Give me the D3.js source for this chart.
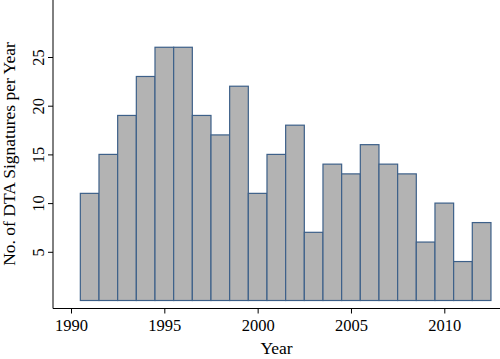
<!DOCTYPE html>
<html><head><meta charset="utf-8">
<script src="https://cdn.jsdelivr.net/npm/d3@7"></script>
<style>body{margin:0;background:#fff}svg{display:block}</style>
</head><body>
<script>
const years = [1991,1992,1993,1994,1995,1996,1997,1998,1999,2000,2001,2002,2003,2004,2005,2006,2007,2008,2009,2010,2011,2012];
const counts = [11,15,19,23,26,26,19,17,22,11,15,18,7,14,13,16,14,13,6,10,4,8];
const xTicks = [1990,1995,2000,2005,2010];
const yTicks = [5,10,15,20,25];

const W = 500, H = 359;
const svg = d3.select("body").append("svg").attr("width", W).attr("height", H);
const font = "'Liberation Serif', 'Times New Roman', serif";

const x = d3.scaleLinear().domain([1990, 2010]).range([71, 444.3]);
const y = d3.scaleLinear().domain([0, 25]).range([300.5, 57]);

// bars
svg.append("g").selectAll("rect").data(years).join("rect")
  .attr("x", (d) => x(d - 0.5))
  .attr("width", (d) => x(d + 0.5) - x(d - 0.5))
  .attr("y", (d, i) => y(counts[i]))
  .attr("height", (d, i) => y(0) - y(counts[i]))
  .attr("fill", "#b3b3b3")
  .attr("stroke", "#3d6089")
  .attr("stroke-width", 1.2);

// y axis
const yAxis = svg.append("g").attr("transform", "translate(53,0)")
  .call(d3.axisLeft(y).tickValues(yTicks).tickSize(5).tickSizeOuter(0));
yAxis.select(".domain").attr("d", "M0,0V308.5");
yAxis.selectAll("text")
  .attr("transform", "rotate(-90)")
  .attr("x", 0).attr("y", -9.5).attr("dy", 0)
  .attr("text-anchor", "middle")
  .style("font-family", font).style("font-size", "16.5px").attr("fill", "#000");

// x axis
const xAxis = svg.append("g").attr("transform", "translate(0,308.5)")
  .call(d3.axisBottom(x).tickValues(xTicks).tickFormat(d3.format("d")).tickSize(5).tickSizeOuter(0));
xAxis.select(".domain").attr("d", "M53,0H500");
xAxis.selectAll("text").attr("y", 22.5).attr("dy", 0)
  .style("font-family", font).style("font-size", "16.5px").attr("fill", "#000");

svg.selectAll(".domain, .tick line").attr("stroke", "#000");

// axis titles
svg.append("text").attr("x", 276.5).attr("y", 353.5)
  .attr("text-anchor", "middle")
  .style("font-family", font).style("font-size", "17.5px")
  .text("Year");
svg.append("text")
  .attr("transform", "translate(15,154) rotate(-90)")
  .attr("text-anchor", "middle")
  .style("font-family", font).style("font-size", "17.5px")
  .text("No. of DTA Signatures per Year");
</script>
</body></html>
